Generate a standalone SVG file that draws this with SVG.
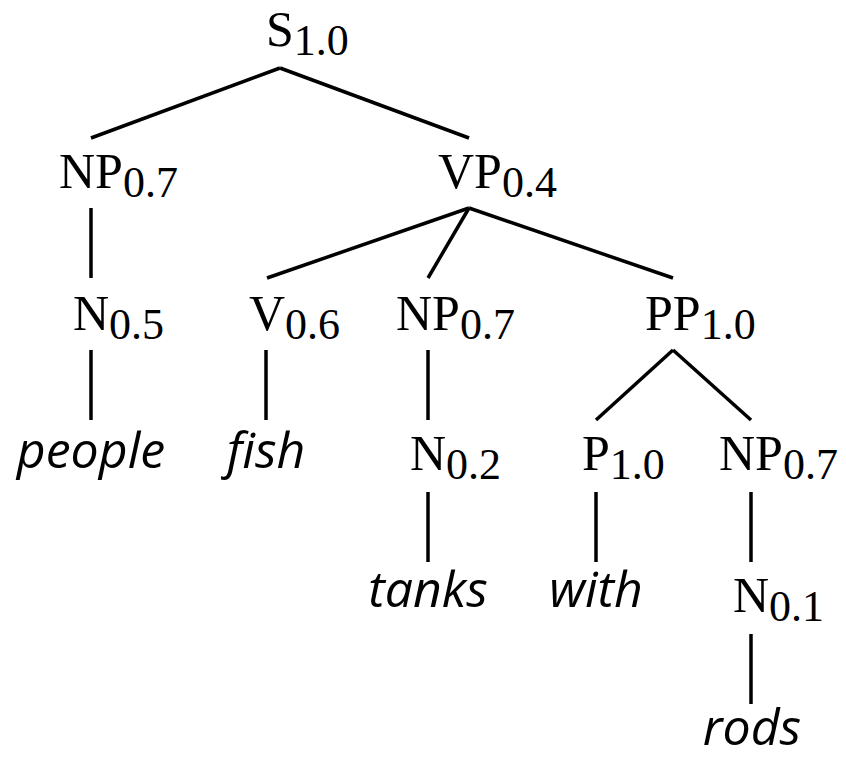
<svg xmlns="http://www.w3.org/2000/svg" width="846" height="759" viewBox="0 0 846 759">
<style>
.lbl{font-family:"Liberation Serif","Times New Roman",serif;font-size:50px;fill:#000}
.sub{font-size:44px}
.word{font-family:"Open Sans","DejaVu Sans",sans-serif;font-style:italic;font-size:50px;fill:#000;text-anchor:middle}
.edge{stroke:#000;stroke-width:3.5;fill:none;stroke-linecap:butt}
</style>
<rect width="846" height="759" fill="#fff"/>
<g id="connectors">
<line class="edge" x1="280" y1="68" x2="91" y2="138"/>
<line class="edge" x1="280" y1="68" x2="469" y2="138"/>
<line class="edge" x1="91" y1="208" x2="91" y2="278"/>
<line class="edge" x1="469" y1="208" x2="267" y2="278"/>
<line class="edge" x1="469" y1="208" x2="428" y2="278"/>
<line class="edge" x1="469" y1="208" x2="673" y2="278"/>
<line class="edge" x1="91" y1="350" x2="91" y2="420"/>
<line class="edge" x1="266" y1="350" x2="266" y2="420"/>
<line class="edge" x1="428" y1="350" x2="428" y2="420"/>
<line class="edge" x1="673" y1="350" x2="596" y2="420"/>
<line class="edge" x1="673" y1="350" x2="751" y2="420"/>
<line class="edge" x1="428" y1="492" x2="428" y2="562"/>
<line class="edge" x1="596" y1="492" x2="596" y2="562"/>
<line class="edge" x1="751" y1="492" x2="751" y2="562"/>
<line class="edge" x1="751" y1="634" x2="751" y2="704"/>
</g>
<g id="S"><text class="lbl" x="266" y="46">S<tspan class="sub" dy="9">1.0</tspan></text></g>
<g id="NP1"><text class="lbl" x="59" y="188">NP<tspan class="sub" dy="9">0.7</tspan></text></g>
<g id="VP"><text class="lbl" x="438" y="188">VP<tspan class="sub" dy="9">0.4</tspan></text></g>
<g id="N1"><text class="lbl" x="73" y="330">N<tspan class="sub" dy="9">0.5</tspan></text></g>
<g id="V"><text class="lbl" x="249" y="330">V<tspan class="sub" dy="9">0.6</tspan></text></g>
<g id="NP2"><text class="lbl" x="396" y="330">NP<tspan class="sub" dy="9">0.7</tspan></text></g>
<g id="PP"><text class="lbl" x="645" y="330">PP<tspan class="sub" dy="9">1.0</tspan></text></g>
<g id="people"><text class="word" x="91" y="468">people</text></g>
<g id="fish"><text class="word" x="266" y="468">fish</text></g>
<g id="N2"><text class="lbl" x="410" y="470">N<tspan class="sub" dy="9">0.2</tspan></text></g>
<g id="P"><text class="lbl" x="582" y="470">P<tspan class="sub" dy="9">1.0</tspan></text></g>
<g id="NP3"><text class="lbl" x="719" y="470">NP<tspan class="sub" dy="9">0.7</tspan></text></g>
<g id="tanks"><text class="word" x="428" y="607">tanks</text></g>
<g id="with"><text class="word" x="596" y="607">with</text></g>
<g id="N3"><text class="lbl" x="733" y="612">N<tspan class="sub" dy="9">0.1</tspan></text></g>
<g id="rods"><text class="word" x="752" y="745">rods</text></g>
</svg>
